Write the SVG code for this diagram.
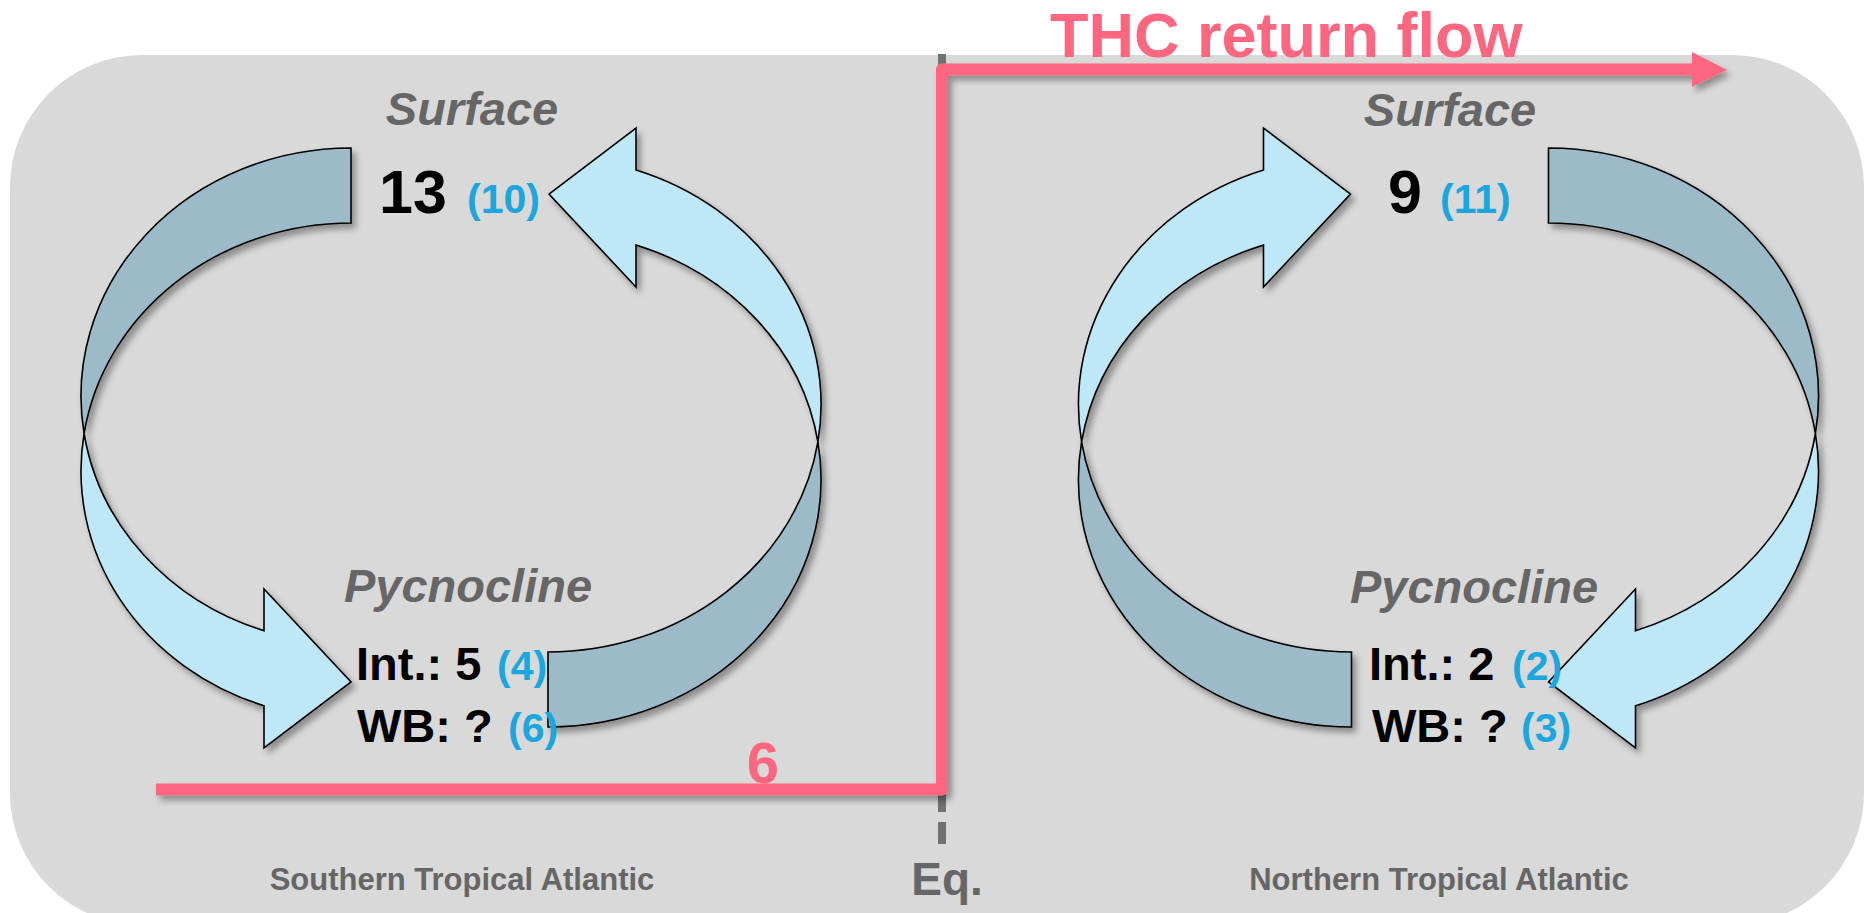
<svg xmlns="http://www.w3.org/2000/svg" width="1868" height="913" viewBox="0 0 1868 913">
<defs>
<style>
.bg{fill:#d9d9d9}
.dark{fill:#9dbac8;stroke:#000;stroke-width:1.6;stroke-linejoin:miter}
.light{fill:#bee8f8;stroke:#000;stroke-width:1.6;stroke-linejoin:miter}
.lbl{font-family:"Liberation Sans",Arial,sans-serif;font-weight:bold;font-style:italic;font-size:47px;fill:#666;text-anchor:middle}
.num{font-family:"Liberation Sans",Arial,sans-serif;font-weight:bold;font-size:61px;fill:#000}
.val{font-family:"Liberation Sans",Arial,sans-serif;font-weight:bold;font-size:47px;fill:#000}
.par{font-family:"Liberation Sans",Arial,sans-serif;font-weight:bold;font-size:41px;fill:#1aa6df}
.reg{font-family:"Liberation Sans",Arial,sans-serif;font-weight:bold;font-size:31px;fill:#666;text-anchor:middle}
.red{fill:none;stroke:#ff6680;stroke-width:12;stroke-linejoin:round}
.redt{font-family:"Liberation Sans",Arial,sans-serif;font-weight:bold;fill:#ff6680}
</style>
<filter id="sh" x="-10%" y="-10%" width="130%" height="130%">
<feDropShadow dx="4" dy="5" stdDeviation="3" flood-color="#000" flood-opacity="0.35"/>
</filter>
<marker id="ah" markerUnits="userSpaceOnUse" markerWidth="40" markerHeight="40" refX="0" refY="17.5" orient="auto">
<path d="M0,0 L35,17.5 L0,35 Z" fill="#ff6680"/>
</marker>
</defs>

<rect class="bg" x="10" y="55" width="1854" height="870" rx="132" ry="132"/>

<g id="connectors">
<line x1="942" y1="54" x2="942" y2="845" stroke="#717171" stroke-width="8" stroke-dasharray="22 10"/>
<g filter="url(#sh)">
<polyline class="red" points="156,789.5 942,789.5 942,69.5 1693,69.5"/>
<path d="M1692,52 L1727,70 L1692,87 Z" fill="#ff6680"/>
</g>
</g>

<g id="south-cycle" filter="url(#sh)">
<path class="dark" d="M351,148 A270,248 0 0 0 84.1,433.5 A270,248 0 0 1 351,223 Z"/>
<path class="light" d="M84.1,433.5 A270,248 0 0 0 264,705.8 L264,748 L351,682 L264,589 L264,630.8 A270,248 0 0 1 84.1,433.5 Z"/>
<path class="dark" d="M548,652 A273,247.6 0 0 0 817.9,441.9 A273,247.6 0 0 1 548,727 Z"/>
<path class="light" d="M817.9,441.9 A273,247.6 0 0 0 636,170 L636,128 L549,194 L636,287 L636,245 A273,247.6 0 0 1 817.9,441.9 Z"/>
</g>

<g id="north-cycle" filter="url(#sh)">
<g transform="matrix(-1,0,0,1,1899.5,0)">
<path class="dark" d="M351,148 A270,248 0 0 0 84.1,433.5 A270,248 0 0 1 351,223 Z"/>
<path class="light" d="M84.1,433.5 A270,248 0 0 0 264,705.8 L264,748 L351,682 L264,589 L264,630.8 A270,248 0 0 1 84.1,433.5 Z"/>
<path class="dark" d="M548,652 A273,247.6 0 0 0 817.9,441.9 A273,247.6 0 0 1 548,727 Z"/>
<path class="light" d="M817.9,441.9 A273,247.6 0 0 0 636,170 L636,128 L549,194 L636,287 L636,245 A273,247.6 0 0 1 817.9,441.9 Z"/>
</g>
</g>

<g id="south-labels">
<text class="lbl" x="472" y="125">Surface</text>
<text class="num" x="379" y="213">13</text>
<text class="par" x="467" y="213">(10)</text>
<text class="lbl" x="468" y="602">Pycnocline</text>
<text class="val" x="356" y="680">Int.: 5</text>
<text class="par" x="497" y="680">(4)</text>
<text class="val" x="357" y="742">WB: ?</text>
<text class="par" x="508" y="742">(6)</text>
<text class="reg" x="462" y="890">Southern Tropical Atlantic</text>
</g>

<g id="north-labels">
<text class="lbl" x="1450" y="126">Surface</text>
<text class="num" x="1388" y="213">9</text>
<text class="par" x="1440" y="213">(11)</text>
<text class="lbl" x="1474" y="603">Pycnocline</text>
<text class="val" x="1369" y="680">Int.: 2</text>
<text class="par" x="1512" y="680">(2)</text>
<text class="val" x="1372" y="742">WB: ?</text>
<text class="par" x="1521" y="742">(3)</text>
<text class="reg" x="1439" y="890">Northern Tropical Atlantic</text>
</g>

<g id="thc-labels">
<text class="redt" x="1050" y="57" font-size="63">THC return flow</text>
<text class="redt" x="763" y="783" font-size="58" text-anchor="middle">6</text>
<text x="947" y="895" font-family="Liberation Sans, Arial, sans-serif" font-weight="bold" font-size="46" fill="#666" text-anchor="middle">Eq.</text>
</g>
</svg>
